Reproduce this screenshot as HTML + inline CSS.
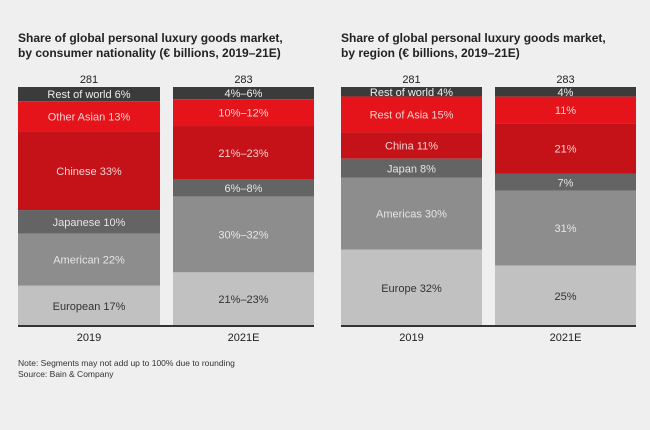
<!DOCTYPE html>
<html><head><meta charset="utf-8"><style>
body{margin:0;background:#efefef;font-family:"Liberation Sans",Arial,sans-serif;}
svg{display:block}
</style></head><body>
<svg width="650" height="430" viewBox="0 0 650 430" id="chart">
<rect x="0" y="0" width="650" height="430" fill="#efefef"/>
<text x="18" y="42" font-size="12" font-weight="bold" fill="#222">Share of global personal luxury goods market,</text>
<text x="18" y="57" font-size="12" font-weight="bold" fill="#222">by consumer nationality (€ billions, 2019–21E)</text>
<text x="341" y="42" font-size="12" font-weight="bold" fill="#222">Share of global personal luxury goods market,</text>
<text x="341" y="57" font-size="12" font-weight="bold" fill="#222">by region (€ billions, 2019–21E)</text>
<text x="18" y="366" font-size="8.5" fill="#333">Note: Segments may not add up to 100% due to rounding</text>
<text x="18" y="377" font-size="8.5" fill="#333">Source: Bain &amp; Company</text>
<g id="bars"></g>
</svg>
<script>
const colors=["#3b3b3b","#e5131a","#c51219","#646464","#8d8d8d","#c1c1c1"];
const textColors=["#eee","#f5d0d0","#f5d0d0","#e5e5e5","#e5e5e5","#333"];
const yearLabels=["2019","2021E"];
const leftTotals=["281","283"];
const rightTotals=["281","283"];
const left2019=[6,13,33,10,22,17];
const left2021=[5,11,22,7,31,22];
const left2019Labels=["Rest of world 6%","Other Asian 13%","Chinese 33%","Japanese 10%","American 22%","European 17%"];
const left2021Labels=["4%–6%","10%–12%","21%–23%","6%–8%","30%–32%","21%–23%"];
const right2019=[4,15,11,8,30,32];
const right2021=[4,11,21,7,31,25];
const right2019Labels=["Rest of world 4%","Rest of Asia 15%","China 11%","Japan 8%","Americas 30%","Europe 32%"];
const right2021Labels=["4%","11%","21%","7%","31%","25%"];
const NS="http://www.w3.org/2000/svg";
const g=document.getElementById('bars');
const top0=87,bottom0=326,H=bottom0-top0;
function mk(tag,attrs){const e=document.createElementNS(NS,tag);for(const k in attrs)e.setAttribute(k,attrs[k]);g.appendChild(e);return e;}
function drawBar(x,w,vals,labels,total,year,prefix){
  const sum=vals.reduce((a,b)=>a+b,0);
  let y=top0;
  vals.forEach((v,i)=>{
    const h=v/sum*H;
    const r=mk('rect',{x:x,y:y,width:w,height:h,fill:colors[i]});
    
    
    const t=mk('text',{x:x+w/2,y:y+h/2+4,'text-anchor':'middle','font-size':11,fill:textColors[i]});
    t.textContent=labels[i];
    
    
    y+=h;
  });
  const tt=mk('text',{x:x+w/2,y:top0-4,'text-anchor':'middle','font-size':11,fill:'#222'});
  tt.textContent=total;
  
  
  const yl=mk('text',{x:x+w/2,y:bottom0+15,'text-anchor':'middle','font-size':11,fill:'#222'});
  yl.textContent=year;
  
  
}
drawBar(18,142,left2019,left2019Labels,leftTotals[0],yearLabels[0],'left-2019');
drawBar(173,141,left2021,left2021Labels,leftTotals[1],yearLabels[1],'left-2021');
drawBar(341,141,right2019,right2019Labels,rightTotals[0],yearLabels[0],'right-2019');
drawBar(495,141,right2021,right2021Labels,rightTotals[1],yearLabels[1],'right-2021');
const a1=mk('rect',{x:18,y:bottom0-1,width:296,height:2,fill:'#333'});


const a2=mk('rect',{x:341,y:bottom0-1,width:295,height:2,fill:'#333'});


</script>
</body></html>
